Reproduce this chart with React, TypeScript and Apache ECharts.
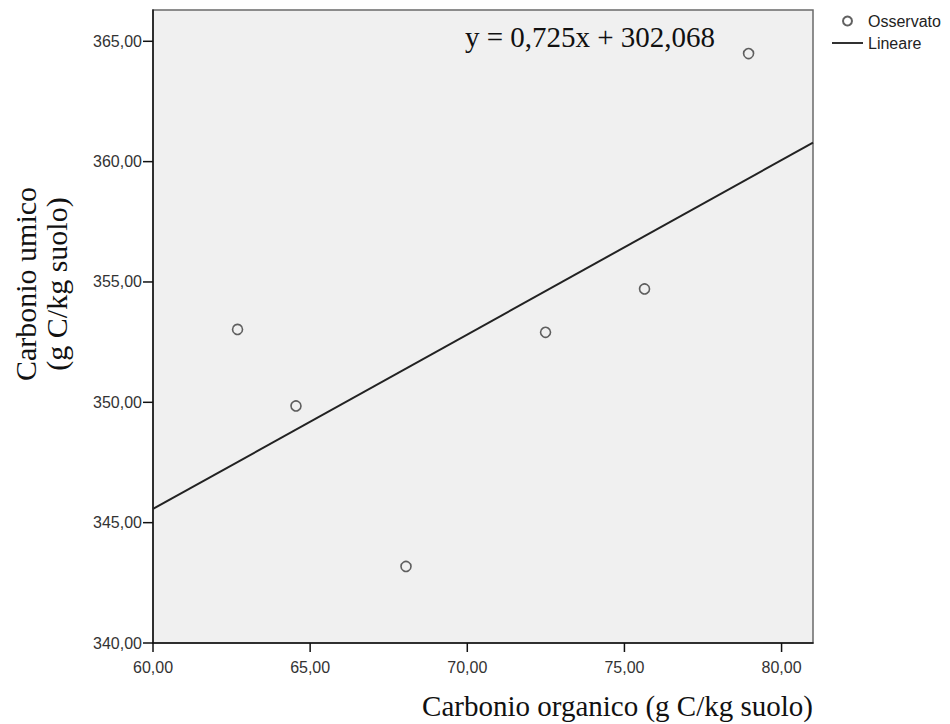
import React, { useEffect, useRef } from "react";
import * as echarts from "echarts";

const obsX = [62.69, 64.55, 68.05, 72.49, 75.64, 78.95];
const obsY = [353.03, 349.85, 343.18, 352.91, 354.71, 364.49];
const fitX = [60, 81];
const fitY = [345.57, 360.79];
const xTicks = [60, 65, 70, 75, 80];
const yTicks = [340, 345, 350, 355, 360, 365];
const equation = "y = 0,725x + 302,068";
const xTitle = "Carbonio organico (g C/kg suolo)";
const yTitle = "Carbonio umico\n(g C/kg suolo)";

const fmt = (v: number) => v.toFixed(2).replace(".", ",");

export default function App() {
  const ref = useRef<HTMLDivElement>(null);
  useEffect(() => {
    const chart = echarts.init(ref.current!, null, { renderer: "svg" });
    const sans = '"Liberation Sans", Arial, sans-serif';
    const serif = '"Liberation Serif", "Times New Roman", serif';
    const tickStyle = { stroke: "#111", lineWidth: 1.5 };
    chart.setOption({
      animation: false,
      backgroundColor: "#ffffff",
      grid: {
        show: true,
        left: 153,
        top: 10,
        right: 137,
        bottom: 81,
        backgroundColor: "#f0f0f0",
        borderColor: "#6a6a6a",
        borderWidth: 1.5,
      },
      legend: {
        orient: "vertical",
        left: 827,
        top: 8,
        itemWidth: 31,
        itemHeight: 9,
        itemGap: 6,
        textStyle: { fontFamily: sans, fontSize: 16, color: "#222", lineHeight: 16 },
        data: [
          { name: "Osservato", icon: "circle" },
          { name: "Lineare", icon: "path://M0,0L100,0L100,6L0,6Z" },
        ],
      },
      xAxis: {
        type: "value",
        min: 60,
        max: 81,
        interval: 5,
        splitLine: { show: false },
        axisLine: { show: true, lineStyle: { color: "#111", width: 1.5 } },
        axisTick: { show: false },
        axisLabel: {
          customValues: xTicks,
          formatter: fmt,
          margin: 16,
          fontFamily: sans,
          fontSize: 16,
          color: "#333",
        },
      },
      yAxis: {
        type: "value",
        min: 340,
        max: 366.3,
        interval: 5,
        splitLine: { show: false },
        axisLine: { show: true, lineStyle: { color: "#111", width: 1.5 } },
        axisTick: { show: false },
        axisLabel: {
          customValues: yTicks,
          formatter: fmt,
          margin: 11,
          fontFamily: sans,
          fontSize: 16,
          color: "#333",
        },
      },
      series: [
        {
          name: "Osservato",
          type: "scatter",
          symbol: "circle",
          symbolSize: 10,
          itemStyle: { color: "rgba(0,0,0,0)", borderColor: "#3a3a3a", borderWidth: 1.6 },
          data: obsX.map((x, i) => [x, obsY[i]]),
        },
        {
          name: "Lineare",
          type: "line",
          symbol: "none",
          color: "#222",
          itemStyle: { color: "#222" },
          lineStyle: { color: "#222", width: 2 },
          data: fitX.map((x, i) => [x, fitY[i]]),
        },
        {
          name: "xTicks",
          type: "custom",
          silent: true,
          clip: false,
          z: 5,
          data: xTicks.map((v) => [v, 340]),
          renderItem: (params: any, api: any) => {
            const p = api.coord([api.value(0), api.value(1)]);
            return {
              type: "line",
              shape: { x1: p[0], y1: p[1], x2: p[0], y2: p[1] + 9 },
              style: tickStyle,
            };
          },
        },
        {
          name: "yTicks",
          type: "custom",
          silent: true,
          clip: false,
          z: 5,
          data: yTicks.map((v) => [60, v]),
          renderItem: (params: any, api: any) => {
            const p = api.coord([api.value(0), api.value(1)]);
            return {
              type: "line",
              shape: { x1: p[0] - 10, y1: p[1], x2: p[0], y2: p[1] },
              style: tickStyle,
            };
          },
        },
      ],
      graphic: [
        {
          type: "text",
          x: 590,
          y: 37,
          style: {
            text: equation,
            font: `29px ${serif}`,
            fill: "#111",
            textAlign: "center",
            textVerticalAlign: "middle",
          },
        },
        {
          type: "text",
          x: 813,
          y: 706,
          style: {
            text: xTitle,
            font: `29px ${serif}`,
            fill: "#111",
            textAlign: "right",
            textVerticalAlign: "middle",
          },
        },
        {
          type: "text",
          x: 41,
          y: 284,
          rotation: Math.PI / 2,
          style: {
            text: yTitle,
            font: `30px ${serif}`,
            lineHeight: 31,
            fill: "#111",
            textAlign: "center",
            textVerticalAlign: "middle",
          },
        },
      ],
    });
    return () => chart.dispose();
  }, []);
  return (
    <div
      ref={ref}
      style={{ position: "fixed", left: 0, top: 0, width: 950, height: 724, background: "#fff" }}
    />
  );
}
